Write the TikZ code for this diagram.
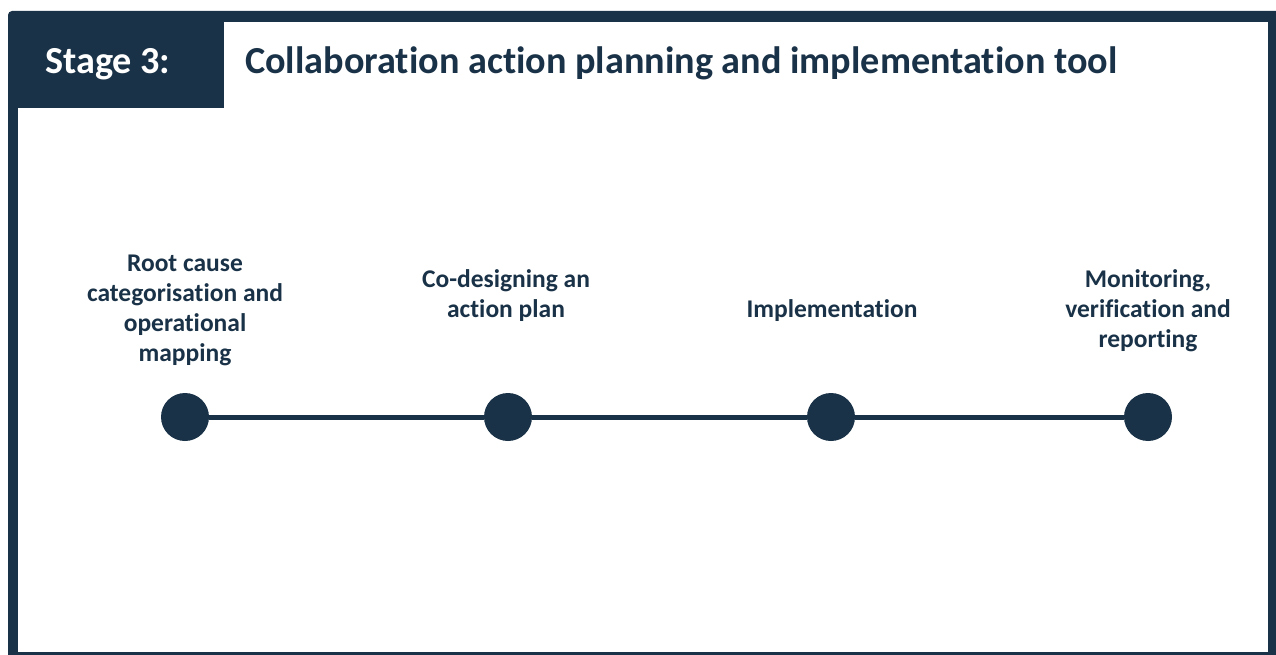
\documentclass[tikz,border=0pt]{standalone}
\usepackage{fontspec}
\setmainfont[Ligatures=NoCommon]{Carlito}
\usetikzlibrary{positioning}
\definecolor{stagenavy}{RGB}{26,50,71}

\begin{document}
\begin{tikzpicture}[
    x=1pt, y=-1pt,
    dot/.style={circle, fill=stagenavy, minimum size=48pt, inner sep=0pt},
    steptext/.style={align=center, text=stagenavy, font=\bfseries\fontsize{25.5}{30}\selectfont},
    headtext/.style={inner sep=0pt, font=\bfseries\fontsize{38.2}{42}\selectfont},
    link/.style={draw=stagenavy, line width=5pt}
]
\clip (0,0) rectangle (1276,655);

% frame and header tab
\fill[stagenavy, rounded corners=4pt] (8,11) rectangle (1300,680);
\fill[white] (18,22) rectangle (1268,652);
\fill[stagenavy] (16,20) rectangle (224,108);

\node[headtext, text=white, anchor=base west] (stage) at (45,74) {Stage 3:};
\node[headtext, text=stagenavy, anchor=base west] (title) at (245,74) {Collaboration action planning and implementation tool};

% timeline
\node[dot] (rootdot) at (185,417) {};
\node[dot] (plandot) at (508,417) {};
\node[dot] (impldot) at (831,417) {};
\node[dot] (monitordot) at (1148,417) {};

\draw[link] (rootdot) -- (plandot);
\draw[link] (plandot) -- (impldot);
\draw[link] (impldot) -- (monitordot);

\node[steptext] (rootcause) at (185,310) {Root cause\\categorisation and\\operational\\mapping};
\node[steptext] (codesign) at (506,296) {Co-designing an\\action plan};
\node[steptext] (implement) at (832,311) {Implementation};
\node[steptext] (monitor) at (1148,311) {Monitoring,\\verification and\\reporting};
\end{tikzpicture}
\end{document}
